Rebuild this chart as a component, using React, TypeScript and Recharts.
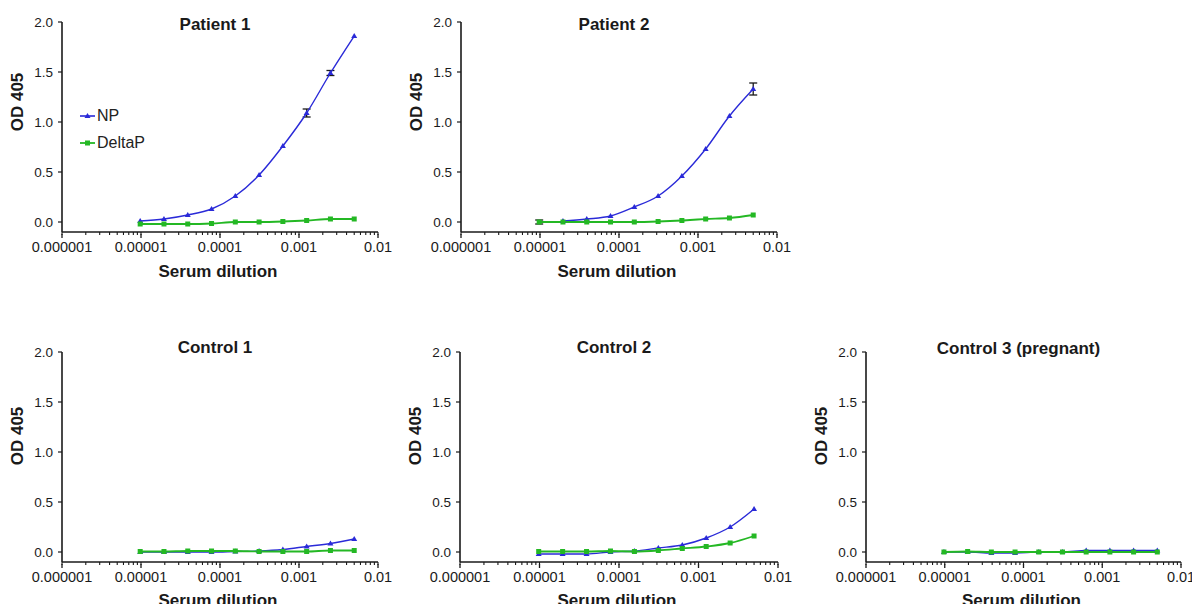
import React from 'react'
import { LineChart, Line, XAxis, YAxis, ErrorBar } from 'recharts'

// 2-fold serum dilutions, 1:102400 -> 1:200
const DILUTIONS = [1 / 102400, 1 / 51200, 1 / 25600, 1 / 12800, 1 / 6400, 1 / 3200, 1 / 1600, 1 / 800, 1 / 400, 1 / 200]
const X_MAJOR = [0.000001, 0.00001, 0.0001, 0.001, 0.01]
const X_LABELS = ['0.000001', '0.00001', '0.0001', '0.001', '0.01']
const Y_TICKS = [0, 0.5, 1, 1.5, 2]

const P1_NP = [0.01, 0.03, 0.07, 0.13, 0.26, 0.47, 0.76, 1.09, 1.49, 1.86]
const P1_NP_ERR = [null, null, null, null, null, null, null, 0.04, 0.025, null]
const P1_DP = [-0.02, -0.02, -0.02, -0.015, 0, 0, 0.005, 0.015, 0.03, 0.03]

const P2_NP = [null, 0.01, 0.03, 0.06, 0.15, 0.26, 0.46, 0.73, 1.06, 1.33]
const P2_NP_ERR = [null, null, null, null, null, null, null, null, null, 0.06]
const P2_DP = [0, 0, 0, 0, 0, 0.005, 0.015, 0.03, 0.04, 0.07]
const P2_DP_ERR = [0.02, null, null, null, null, null, null, null, null, null]

const C1_NP = [0, 0, 0, 0, 0.005, 0.01, 0.025, 0.055, 0.085, 0.13]
const C1_DP = [0.005, 0.005, 0.01, 0.01, 0.01, 0.005, 0.005, 0.005, 0.015, 0.015]

const C2_NP = [-0.02, -0.02, -0.02, 0, 0.01, 0.04, 0.07, 0.14, 0.25, 0.43]
const C2_DP = [0.005, 0.005, 0.005, 0.01, 0.005, 0.015, 0.035, 0.055, 0.09, 0.16]

const C3_NP = [0, 0, -0.01, -0.01, 0, 0, 0.015, 0.015, 0.015, 0.015]
const C3_DP = [0, 0.005, 0, 0, 0, 0, 0, 0, 0, 0]

const BLUE = '#2a2ad8'
const GREEN = '#24b824'
const INK = '#1a1a1a'
const FONT = '"Liberation Sans", Arial, sans-serif'

// major + minor log ticks
const X_TICKS: number[] = []
X_MAJOR.forEach((d, i) => {
  X_TICKS.push(d)
  if (i < X_MAJOR.length - 1) for (let m = 2; m <= 9; m++) X_TICKS.push(d * m)
})

const majorIndex = (v: number) => X_MAJOR.findIndex(m => Math.abs(Math.log10(m) - Math.log10(v)) < 1e-9)

// y arrives 3px below the axis line (after the shared tick line)
const XTick = (props: any) => {
  const { x, y, payload } = props
  const idx = majorIndex(payload.value)
  if (idx < 0) return <g />
  return (
    <g>
      <line x1={x} x2={x} y1={y - 1} y2={y + 3} stroke={INK} strokeWidth={1.3} />
      <text x={x} y={y + 7} dy="0.71em" textAnchor="middle" fontSize={14.5} fill={INK} fontFamily={FONT}>
        {X_LABELS[idx]}
      </text>
    </g>
  )
}

const triDot = (props: any) => {
  const { cx, cy, index } = props
  if (cx == null || cy == null) return <g key={`t${index}`} />
  return <path key={`t${index}`} d={`M${cx},${cy - 3}L${cx + 3},${cy + 2}L${cx - 3},${cy + 2}Z`} fill={BLUE} />
}

const sqDot = (props: any) => {
  const { cx, cy, index } = props
  if (cx == null || cy == null) return <g key={`s${index}`} />
  return <rect key={`s${index}`} x={cx - 2.5} y={cy - 2.5} width={5} height={5} fill={GREEN} />
}

interface PanelProps {
  left: number
  top: number
  plotW: number
  title: string
  titleY: number
  yLabelY: number
  xLabelY: number
  np: (number | null)[]
  dp: (number | null)[]
  npErr?: (number | null)[]
  dpErr?: (number | null)[]
  legend?: boolean
}

function Panel({ left, top, plotW, title, titleY, yLabelY, xLabelY, np, dp, npErr, dpErr, legend }: PanelProps) {
  const rows = DILUTIONS.map((x, i) => ({
    x,
    np: np[i],
    dp: dp[i],
    npErr: npErr ? npErr[i] : null,
    dpErr: dpErr ? dpErr[i] : null,
  }))
  const W = 62 + plotW + 22
  const H = 300
  const cx = 62 + plotW / 2
  const oy = top - 22
  return (
    <div style={{ position: 'absolute', left: left - 62, top: oy, width: W, height: H }}>
      <LineChart width={W} height={H} data={rows} margin={{ top: 22, right: 22, left: 22, bottom: 38 }}>
        <XAxis
          dataKey="x"
          type="number"
          scale="log"
          domain={[0.000001, 0.01]}
          allowDataOverflow
          ticks={X_TICKS}
          interval={0}
          tick={<XTick />}
          tickLine={{ stroke: INK, strokeWidth: 1.1 }}
          tickSize={3}
          tickMargin={0}
          height={30}
          axisLine={{ stroke: INK, strokeWidth: 1.6 }}
        />
        <YAxis
          type="number"
          domain={[-0.1, 2]}
          ticks={Y_TICKS}
          interval={0}
          width={40}
          tickSize={4}
          tickMargin={5}
          tickFormatter={(v: number) => v.toFixed(1)}
          tick={{ fontSize: 13.5, fill: INK, fontFamily: FONT }}
          tickLine={{ stroke: INK, strokeWidth: 1.2 }}
          axisLine={{ stroke: INK, strokeWidth: 1.6 }}
        />
        <Line
          dataKey="np"
          type="monotone"
          stroke={BLUE}
          strokeWidth={1.4}
          dot={triDot}
          activeDot={false}
          isAnimationActive={false}
        >
          <ErrorBar dataKey="npErr" width={4} stroke={INK} strokeWidth={1.3} direction="y" />
        </Line>
        <Line
          dataKey="dp"
          type="monotone"
          stroke={GREEN}
          strokeWidth={1.8}
          dot={sqDot}
          activeDot={false}
          isAnimationActive={false}
        >
          <ErrorBar dataKey="dpErr" width={4} stroke={INK} strokeWidth={1.3} direction="y" />
        </Line>
      </LineChart>

      <div style={{ ...center, left: cx - 5, top: titleY - oy, fontSize: 17, fontWeight: 700 }}>{title}</div>
      <div style={{ ...center, left: 18, top: yLabelY - oy, fontSize: 17, fontWeight: 700, transform: 'translate(-50%, -50%) rotate(-90deg)' }}>
        OD 405
      </div>
      <div style={{ ...center, left: cx - 2, top: xLabelY - oy, fontSize: 17, fontWeight: 700 }}>Serum dilution</div>

      {legend && (
        <div style={{ position: 'absolute', left: 80, top: 102, fontSize: 16, color: '#222', lineHeight: '27px', fontFamily: FONT }}>
          <div style={{ display: 'flex', alignItems: 'center' }}>
            <svg width={17} height={10}>
              <line x1={0} x2={15} y1={5} y2={5} stroke={BLUE} strokeWidth={1.6} />
              <path d="M7.5,2L10.5,7L4.5,7Z" fill={BLUE} />
            </svg>
            <span>NP</span>
          </div>
          <div style={{ display: 'flex', alignItems: 'center' }}>
            <svg width={17} height={10}>
              <line x1={0} x2={15} y1={5} y2={5} stroke={GREEN} strokeWidth={1.8} />
              <rect x={5} y={2.5} width={5} height={5} fill={GREEN} />
            </svg>
            <span>DeltaP</span>
          </div>
        </div>
      )}
    </div>
  )
}

const center: React.CSSProperties = {
  position: 'absolute',
  transform: 'translate(-50%, -50%)',
  whiteSpace: 'nowrap',
  color: INK,
  fontFamily: FONT,
}

export default function App() {
  return (
    <div style={{ position: 'relative', width: 1200, height: 612, margin: -8, overflow: 'hidden', background: '#fff', fontFamily: FONT }}>
      <Panel left={62} top={22} plotW={316} title="Patient 1" titleY={25} yLabelY={102} xLabelY={272}
        np={P1_NP} dp={P1_DP} npErr={P1_NP_ERR} legend />
      <Panel left={461} top={22} plotW={316} title="Patient 2" titleY={25} yLabelY={102} xLabelY={272}
        np={P2_NP} dp={P2_DP} npErr={P2_NP_ERR} dpErr={P2_DP_ERR} />
      <Panel left={62} top={352} plotW={316} title="Control 1" titleY={348} yLabelY={436} xLabelY={601}
        np={C1_NP} dp={C1_DP} />
      <Panel left={460} top={352} plotW={318} title="Control 2" titleY={348} yLabelY={436} xLabelY={601}
        np={C2_NP} dp={C2_DP} />
      <Panel left={866} top={352} plotW={315} title="Control 3 (pregnant)" titleY={349} yLabelY={436} xLabelY={601}
        np={C3_NP} dp={C3_DP} />
    </div>
  )
}
